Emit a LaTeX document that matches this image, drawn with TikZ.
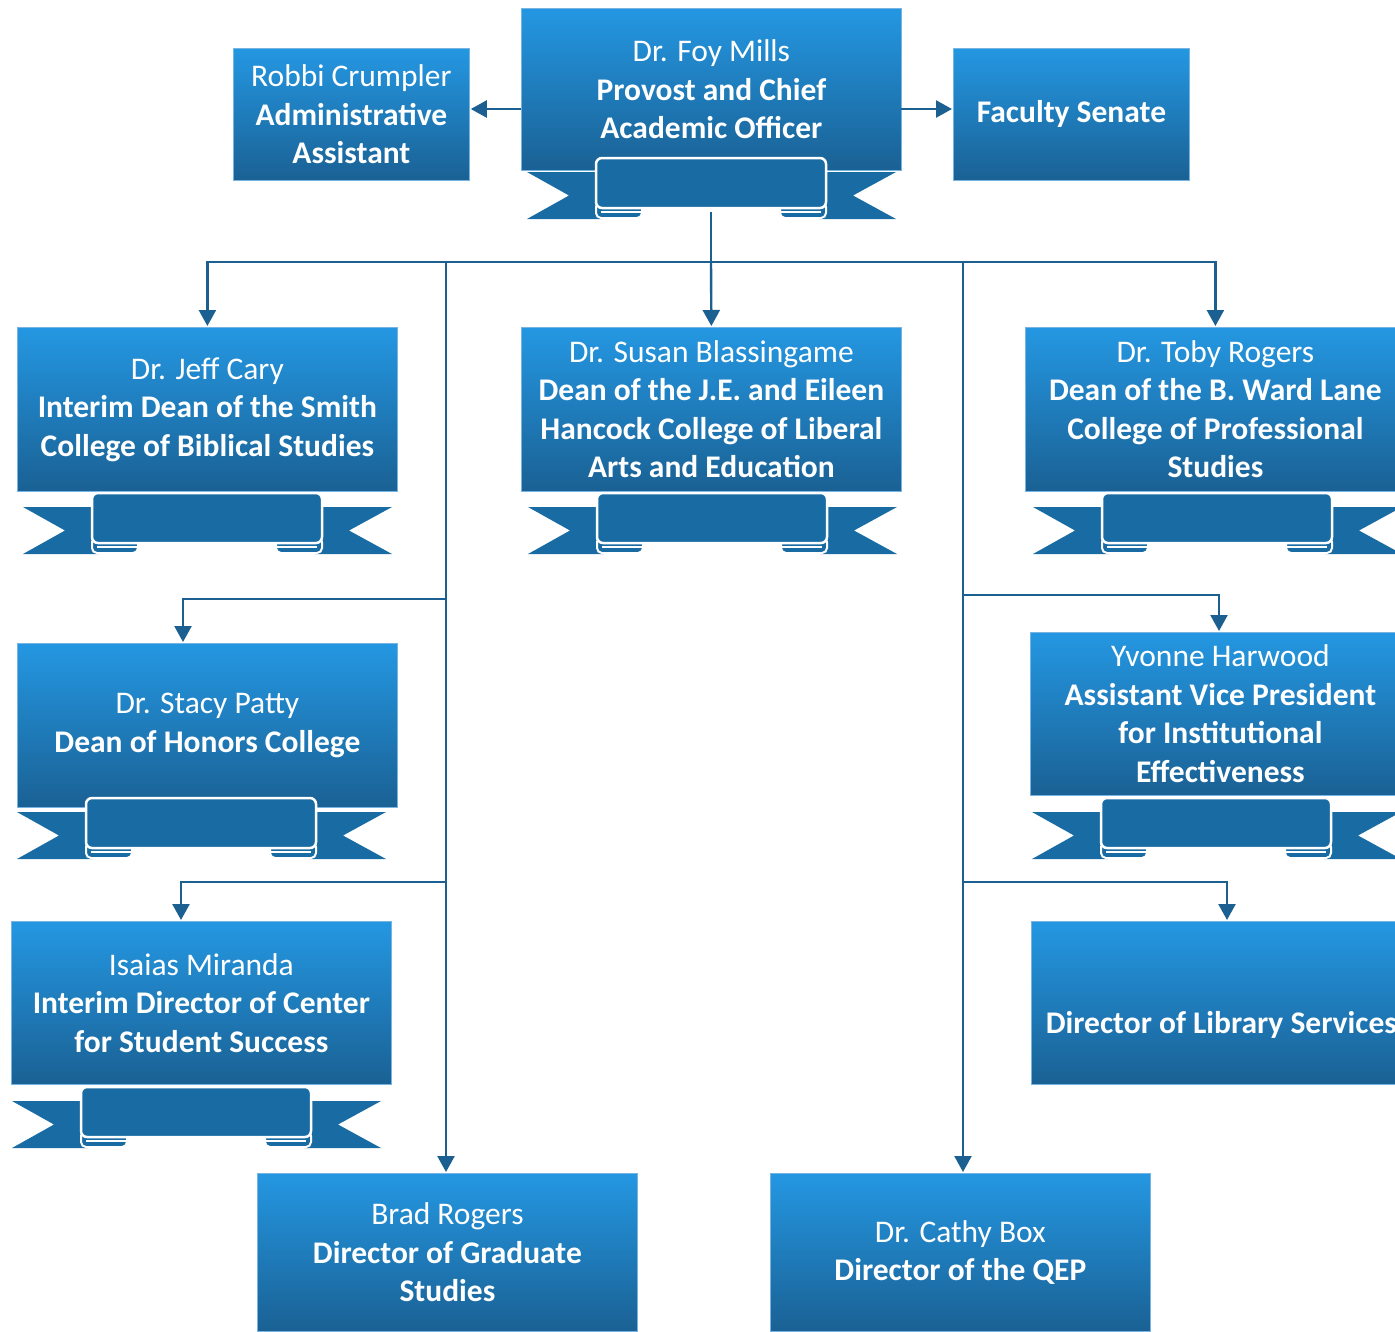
\documentclass[tikz,border=0pt]{standalone}
\usepackage{fontspec}
\setmainfont{Carlito}
\usetikzlibrary{arrows.meta}
\definecolor{boxtop}{RGB}{36,151,226}
\definecolor{boxbot}{RGB}{26,97,148}
\definecolor{boxedge}{RGB}{120,180,225}
\definecolor{ribcol}{RGB}{25,108,163}
\definecolor{conncol}{RGB}{28,96,146}
\tikzset{
  orgbox/.style={draw=boxedge, line width=0.8pt, top color=boxtop, bottom color=boxbot,
    minimum width=380pt, minimum height=164pt, anchor=north west, text=white,
    align=center, inner sep=0pt, font=\fontsize{31.5}{38.5}\selectfont},
  conn/.style={draw=conncol, line width=2.4pt},
  arr/.style={conn, -{Triangle[width=17pt,length=16pt]}, shorten >=1pt},
  ribbon/.pic={
    \fill[ribcol] (6,0) -- (82,0) -- (82,47) -- (6,47) -- (48,23.5) -- cycle;
    \fill[ribcol] (375,0) -- (298,0) -- (298,47) -- (375,47) -- (332,23.5) -- cycle;
    \draw[white, line width=2pt, fill=ribcol, rounded corners=5pt] (75,30) rectangle (121,46);
    \draw[white, line width=2pt, fill=ribcol, rounded corners=5pt] (259,30) rectangle (305,46);
    \draw[white, line width=1.5pt] (80,40) -- (121,40) (259,40) -- (300,40);
    \draw[white, line width=2.5pt, fill=ribcol, rounded corners=6pt] (75,-14) rectangle (305,36);
  }
}
\begin{document}
\begin{tikzpicture}[x=1pt,y=-1pt]
\useasboundingbox (0,0) rectangle (1395,1331);
\clip (0,0) rectangle (1395,1331);
% boxes
\node[orgbox, minimum width=236pt, minimum height=132pt] (robbi) at (233,48)
  {Robbi Crumpler\\\textbf{Administrative}\\\textbf{Assistant}};
\node[orgbox, minimum height=162pt] (foy) at (521,8)
  {Dr. Foy Mills\\\textbf{Provost and Chief}\\\textbf{Academic Officer}};
\pic at (521,172) {ribbon};
\node[orgbox, minimum width=236pt, minimum height=132pt] (senate) at (953,48)
  {\textbf{Faculty Senate}};
\node[orgbox] (jeff) at (17,327)
  {Dr. Jeff Cary\\\textbf{Interim Dean of the Smith}\\\textbf{College of Biblical Studies}};
\pic at (17,507) {ribbon};
\node[orgbox] (susan) at (521,327)
  {Dr. Susan Blassingame\\\textbf{Dean of the J.E. and Eileen}\\\textbf{Hancock College of Liberal}\\\textbf{Arts and Education}};
\pic at (522,507) {ribbon};
\node[orgbox] (toby) at (1025,327)
  {Dr. Toby Rogers\\\textbf{Dean of the B. Ward Lane}\\\textbf{College of Professional}\\\textbf{Studies}};
\pic at (1027,507) {ribbon};
\node[orgbox] (stacy) at (17,643)
  {Dr. Stacy Patty\\\textbf{Dean of Honors College}};
\pic at (11,812) {ribbon};
\node[orgbox, minimum height=163pt] (yvonne) at (1030,632)
  {Yvonne Harwood\\\textbf{Assistant Vice President}\\\textbf{for Institutional}\\\textbf{Effectiveness}};
\pic at (1026,812) {ribbon};
\node[orgbox, minimum height=163pt] (isaias) at (11,921)
  {Isaias Miranda\\\textbf{Interim Director of Center}\\\textbf{for Student Success}};
\pic at (6,1101) {ribbon};
\node[orgbox, minimum height=163pt] (library) at (1031,921)
  {\strut\\\textbf{Director of Library Services}};
\node[orgbox, minimum height=158pt] (brad) at (257,1173)
  {Brad Rogers\\\textbf{Director of Graduate}\\\textbf{Studies}};
\node[orgbox, minimum height=158pt] (cathy) at (770,1173)
  {Dr. Cathy Box\\\textbf{Director of the QEP}};
% connectors
\coordinate (foyb) at (711,212);
\coordinate (bus) at (711,262);
\coordinate (lt) at (446,262);
\coordinate (rt) at (963,262);
\coordinate (lb1) at (446,599);
\coordinate (lb1a) at (183,599);
\coordinate (lb2) at (446,882);
\coordinate (lb2a) at (181,882);
\coordinate (rb1) at (963,595);
\coordinate (rb1a) at (1219,595);
\coordinate (rb2) at (963,882);
\coordinate (rb2a) at (1227,882);
\coordinate (sl) at (521,109);
\coordinate (sr) at (901,109);
\draw[arr] (sl) -- (sl -| robbi.east);
\draw[arr] (sr) -- (sr -| senate.west);
\draw[conn] (foyb) -- (bus);
\draw[arr] (bus) -| (jeff.north);
\draw[arr] (bus) -- (susan.north);
\draw[arr] (bus) -| (toby.north);
\draw[arr] (lt) -- (lt |- brad.north);
\draw[arr] (rt) -- (rt |- cathy.north);
\draw[arr] (lb1) -- (lb1a) -- (lb1a |- stacy.north);
\draw[arr] (lb2) -- (lb2a) -- (lb2a |- isaias.north);
\draw[arr] (rb1) -- (rb1a) -- (rb1a |- yvonne.north);
\draw[arr] (rb2) -- (rb2a) -- (rb2a |- library.north);
\end{tikzpicture}
\end{document}
